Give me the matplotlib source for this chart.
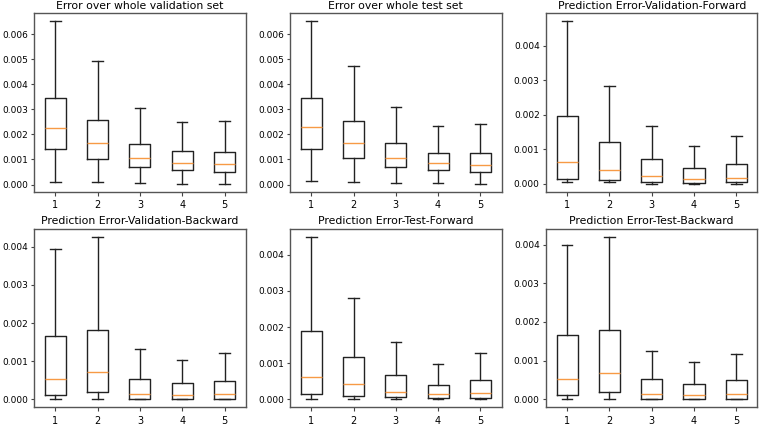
import matplotlib
matplotlib.use("Agg")
import matplotlib.pyplot as plt
from matplotlib.ticker import MultipleLocator

positions = [1, 2, 3, 4, 5]
titles = [
    "Error over whole validation set",
    "Error over whole test set",
    "Prediction Error-Validation-Forward",
    "Prediction Error-Validation-Backward",
    "Prediction Error-Test-Forward",
    "Prediction Error-Test-Backward",
]

# each panel: whisker low, q1, median, q3, whisker high for boxes 1..5
val_whislo = [0.00009, 0.00009, 0.00005, 0.00004, 0.00004]
val_q1     = [0.00140, 0.00103, 0.00068, 0.00056, 0.00050]
val_med    = [0.00224, 0.00167, 0.00107, 0.00086, 0.00083]
val_q3     = [0.00346, 0.00259, 0.00163, 0.00132, 0.00130]
val_whishi = [0.00652, 0.00494, 0.00306, 0.00249, 0.00253]

test_whislo = [0.00013, 0.00010, 0.00005, 0.00006, 0.00004]
test_q1     = [0.00140, 0.00104, 0.00068, 0.00056, 0.00049]
test_med    = [0.00229, 0.00167, 0.00107, 0.00086, 0.00079]
test_q3     = [0.00346, 0.00253, 0.00164, 0.00127, 0.00126]
test_whishi = [0.00652, 0.00473, 0.00308, 0.00233, 0.00242]

vf_whislo = [0.00004, 0.00004, 0.00001, 0.00001, 0.00001]
vf_q1     = [0.00015, 0.00011, 0.00004, 0.00003, 0.00004]
vf_med    = [0.00062, 0.00041, 0.00022, 0.00015, 0.00018]
vf_q3     = [0.00197, 0.00121, 0.00071, 0.00046, 0.00058]
vf_whishi = [0.00472, 0.00284, 0.00167, 0.00109, 0.00138]

vb_whislo = [0.00000, 0.00000, 0.00000, 0.00000, 0.00000]
vb_q1     = [0.00011, 0.00019, 0.00002, 0.00001, 0.00002]
vb_med    = [0.00054, 0.00071, 0.00015, 0.00011, 0.00014]
vb_q3     = [0.00167, 0.00183, 0.00054, 0.00044, 0.00049]
vb_whishi = [0.00395, 0.00426, 0.00132, 0.00104, 0.00122]

tf_whislo = [0.00000, 0.00000, 0.00001, 0.00001, 0.00001]
tf_q1     = [0.00016, 0.00009, 0.00006, 0.00003, 0.00004]
tf_med    = [0.00062, 0.00042, 0.00020, 0.00014, 0.00018]
tf_q3     = [0.00188, 0.00118, 0.00067, 0.00041, 0.00054]
tf_whishi = [0.00450, 0.00280, 0.00160, 0.00098, 0.00128]

tb_whislo = [0.00000, 0.00000, 0.00000, 0.00000, 0.00000]
tb_q1     = [0.00010, 0.00019, 0.00002, 0.00001, 0.00002]
tb_med    = [0.00052, 0.00069, 0.00014, 0.00010, 0.00014]
tb_q3     = [0.00166, 0.00178, 0.00052, 0.00040, 0.00049]
tb_whishi = [0.00400, 0.00420, 0.00126, 0.00097, 0.00118]

panels = [
    (val_whislo, val_q1, val_med, val_q3, val_whishi),
    (test_whislo, test_q1, test_med, test_q3, test_whishi),
    (vf_whislo, vf_q1, vf_med, vf_q3, vf_whishi),
    (vb_whislo, vb_q1, vb_med, vb_q3, vb_whishi),
    (tf_whislo, tf_q1, tf_med, tf_q3, tf_whishi),
    (tb_whislo, tb_q1, tb_med, tb_q3, tb_whishi),
]

fig, axes = plt.subplots(2, 3, figsize=(7.59, 4.28), dpi=100)
fig.subplots_adjust(left=0.045, right=0.998, top=0.970, bottom=0.048,
                    wspace=0.21, hspace=0.207)

for ax, title, (lo, q1, med, q3, hi) in zip(axes.flat, titles, panels):
    stats = []
    for i in range(len(positions)):
        stats.append(dict(whislo=lo[i], q1=q1[i], med=med[i], q3=q3[i],
                          whishi=hi[i], fliers=[], label=str(positions[i])))
    ax.bxp(stats, positions=positions, showfliers=False,
           boxprops=dict(color="#222222", linewidth=1.0),
           whiskerprops=dict(color="#222222", linewidth=1.0),
           capprops=dict(color="#222222", linewidth=1.0),
           medianprops=dict(color="#f79a45", linewidth=1.0))
    ax.set_title(title, fontsize=7.8, pad=3)
    ax.yaxis.set_major_locator(MultipleLocator(0.001))
    ax.tick_params(axis="y", labelsize=6.5, length=2.5, width=0.8, pad=2,
                   color="#444444")
    ax.tick_params(axis="x", labelsize=7, length=3, width=0.8, pad=3,
                   color="#444444")
    for s in ax.spines.values():
        s.set_color("#555555")
        s.set_linewidth(1.0)

fig.savefig("out.png", dpi=100)
